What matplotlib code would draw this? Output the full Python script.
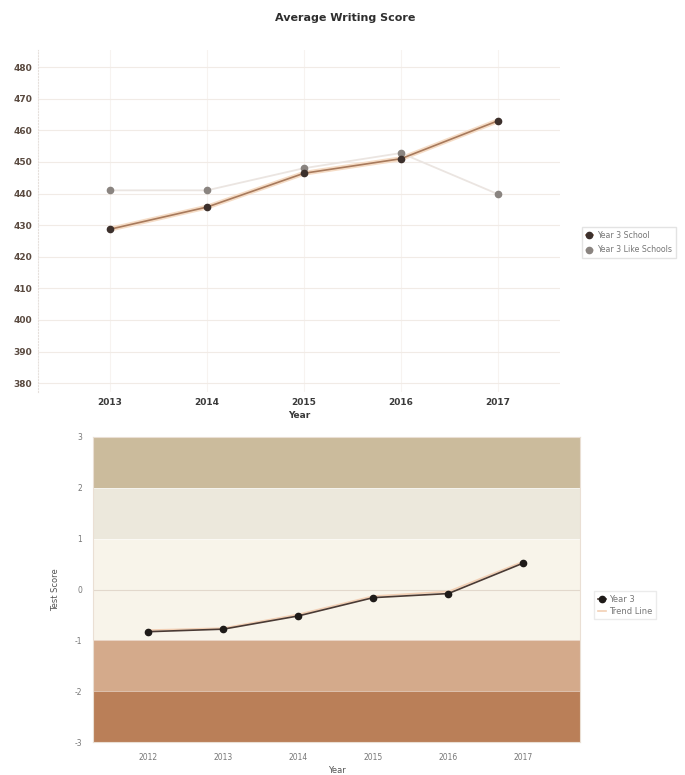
import matplotlib
matplotlib.use("Agg")
import matplotlib.pyplot as plt
import numpy as np

# --- data ---------------------------------------------------------------
writing_years = ["2013", "2014", "2015", "2016", "2017"]
school_scores = [428.7, 435.7, 446.4, 451.0, 463.0]
like_school_scores = [441.0, 441.0, 448.0, 452.8, 439.8]
writing_ticks = [380, 390, 400, 410, 420, 430, 440, 450, 460, 470, 480]

test_years = ["2012", "2013", "2014", "2015", "2016", "2017"]
year3_scores = [-0.83, -0.78, -0.52, -0.16, -0.08, 0.52]
trend_scores = [-0.80, -0.76, -0.49, -0.13, -0.04, 0.55]
test_ticks = [-3, -2, -1, 0, 1, 2, 3]
# score bands: (low, high, colour)
bands = [(2, 3, "#cbbb9c"), (1, 2, "#ece8dc"), (0, 1, "#f8f4ea"),
         (-1, 0, "#f8f4ea"), (-2, -1, "#d4aa8b"), (-3, -2, "#ba7f58")]

W, H = 685, 775
fig = plt.figure(figsize=(W / 100, H / 100), dpi=100)
fig.patch.set_facecolor("white")


def ax_rect(left, top, right, bottom):
    return [left / W, 1 - bottom / H, (right - left) / W, (bottom - top) / H]


# --- top chart: average writing score ----------------------------------
ax1 = fig.add_axes(ax_rect(38, 50, 560, 392))
x1 = np.arange(len(writing_years))
ax1.plot(x1, school_scores, color="#f5dcc6", lw=3.5, zorder=2)
ax1.plot(x1, school_scores, color="#a87a5c", lw=1.2, marker="o", ms=4.5,
         mfc="#3c302c", mec="#3c302c", label="Year 3 School", zorder=3)
ax1.plot(x1, like_school_scores, color="#ebe5e1", lw=1.3, marker="o", ms=4.5,
         mfc="#8a8480", mec="#8a8480", label="Year 3 Like Schools", zorder=2.5)
ax1.set_xlim(-0.742, 4.64)
ax1.set_ylim(377.2, 485.4)
ax1.set_yticks(writing_ticks)
ax1.set_yticklabels([str(v) for v in writing_ticks], fontsize=6.5,
                    fontweight="bold", color="#5a4a40")
ax1.set_xticks(x1)
ax1.set_xticklabels(writing_years, fontsize=6.5, fontweight="bold", color="#3a3a3a")
ax1.set_xlabel("Year", fontsize=6.5, fontweight="bold", color="#3a3a3a", labelpad=3)
ax1.tick_params(length=0, pad=4)
ax1.grid(axis="y", color="#f1ebe6", lw=0.8)
ax1.grid(axis="x", color="#f7f3f0", lw=0.8)
for s in ["top", "right", "bottom"]:
    ax1.spines[s].set_visible(False)
ax1.spines["left"].set_color("#e6e0dc")
ax1.spines["left"].set_linestyle(":")
ax1.set_axisbelow(True)
fig.text(345 / W, 1 - 18 / H, "Average Writing Score", ha="center", va="center",
         fontsize=8, fontweight="bold", color="#2e2e2e")
fig.legend(*ax1.get_legend_handles_labels(), loc="upper left",
           bbox_to_anchor=(578 / W, 1 - 223 / H), fontsize=5.7,
           frameon=True, fancybox=False, edgecolor="#dddddd",
           handlelength=0.9, borderpad=0.5, labelspacing=0.7,
           handletextpad=0.5, labelcolor="#777777")

# --- bottom chart: test score bands -------------------------------------
ax2 = fig.add_axes(ax_rect(93, 437, 580, 742))
for lo, hi, col in bands:
    ax2.axhspan(lo, hi, color=col, lw=0, zorder=0)
x2 = np.arange(len(test_years))
ax2.axhline(0, color="#e2d8cc", lw=0.8, zorder=1)
for b in [1, 2, -1, -2]:
    ax2.axhline(b, color="#ffffff", lw=0.6, alpha=0.6, zorder=1)
ax2.plot(x2, trend_scores, color="#f2cfb4", lw=1.2, label="Trend Line", zorder=2)
ax2.plot(x2, year3_scores, color="#4a3a34", lw=1.2, marker="o", ms=4.5,
         mfc="#1e1a18", mec="#1e1a18", label="Year 3", zorder=3)
ax2.set_xlim(-0.737, 5.756)
ax2.set_ylim(-3, 3)
ax2.set_yticks(test_ticks)
ax2.set_yticklabels([str(v) for v in test_ticks], fontsize=5.5, color="#777777")
ax2.set_xticks(x2)
ax2.set_xticklabels(test_years, fontsize=5.5, color="#777777")
ax2.set_xlabel("Year", fontsize=6, color="#555555", labelpad=3)
ax2.set_ylabel("Test Score", fontsize=6, color="#555555", labelpad=10)
ax2.tick_params(length=0, pad=8)
for s in ax2.spines.values():
    s.set_color("#eadfd4")
    s.set_linewidth(0.8)
h, l = ax2.get_legend_handles_labels()
fig.legend([h[1], h[0]], [l[1], l[0]], loc="upper left",
           bbox_to_anchor=(590 / W, 1 - 587 / H), fontsize=6, frameon=True,
           fancybox=False, edgecolor="#e6e6e6", handlelength=1.0, borderpad=0.4,
           labelspacing=0.4, handletextpad=0.4, labelcolor="#777777")

fig.savefig("out.png", dpi=100)
